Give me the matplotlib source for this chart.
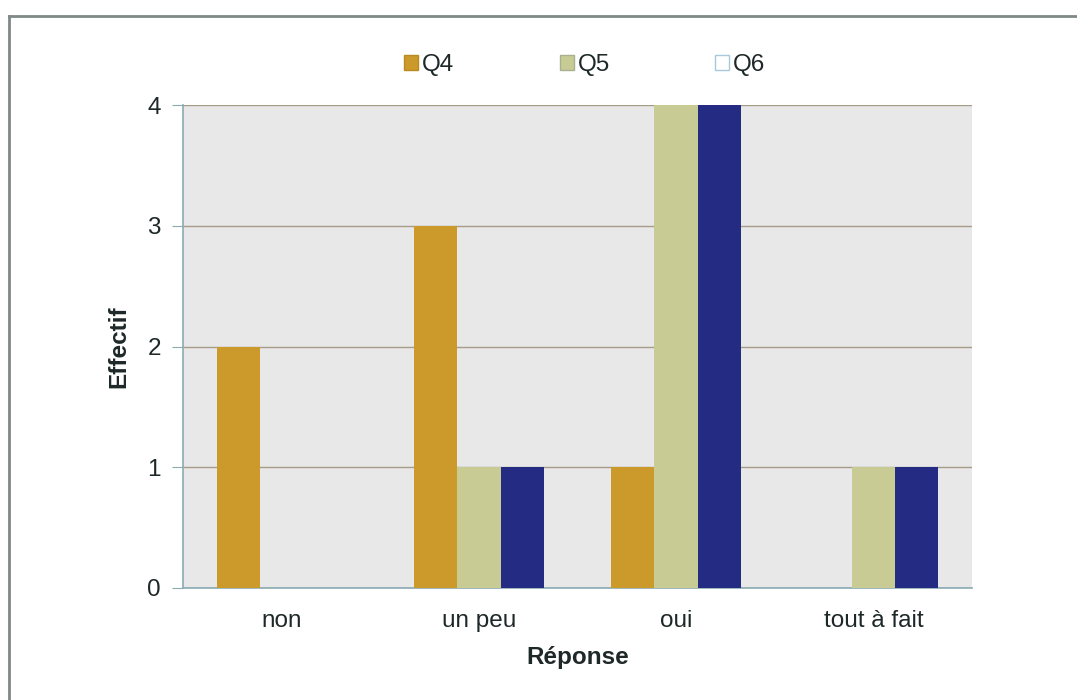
import numpy as np
import matplotlib
matplotlib.use('Agg')
import matplotlib.pyplot as plt
from matplotlib.patches import Patch
from matplotlib.lines import Line2D

plt.rcParams['font.family'] = ['Liberation Sans', 'DejaVu Sans']

# data
categories = ['non', 'un peu', 'oui', 'tout à fait']
series = ['Q4', 'Q5', 'Q6']
q4 = [2, 3, 1, 0]
q5 = [0, 1, 4, 1]
q6 = [0, 1, 4, 1]
values = [q4, q5, q6]
colors = ['#CC9A2A', '#C9CB95', '#232B82']
legend_faces = ['#CC9A2A', '#C9CB95', '#FFFFFF']
legend_edges = ['#B88A20', '#A8B090', '#A8C8DC']

fig = plt.figure(figsize=(10.77, 7), dpi=100)
ax = fig.add_axes([0.170, 0.160, 0.7325, 0.690])

x = np.arange(len(categories))
w = 0.22
for i, (vals, c) in enumerate(zip(values, colors)):
    ax.bar(x + (i - 1) * w, vals, width=w, color=c, zorder=3)

ax.set_xlim(-0.5, len(categories) - 0.5)
ax.set_ylim(0, 4)
ax.set_yticks([0, 1, 2, 3, 4])
ax.set_xticks(x)
ax.set_xticklabels(categories, fontsize=17.5, color='#1E2828')
ax.tick_params(axis='y', labelsize=17.5, labelcolor='#1E2828', length=8, color='#8AAAB4', pad=8)
ax.tick_params(axis='x', length=0, pad=16)
ax.set_facecolor('#E8E8E8')
ax.grid(axis='y', color='#A89C88', linewidth=1, zorder=1)
for s in ['top', 'right']:
    ax.spines[s].set_visible(False)
for s in ['left', 'bottom']:
    ax.spines[s].set_color('#8AAAB4')
    ax.spines[s].set_linewidth(1.2)

ax.set_xlabel('Réponse', fontsize=17.5, fontweight='bold', labelpad=10, color='#1E2828')
ax.set_ylabel('Effectif', fontsize=17.5, fontweight='bold', labelpad=12, color='#1E2828')

handles = [Patch(facecolor=f, edgecolor=e, label=s) for f, e, s in zip(legend_faces, legend_edges, series)]
fig.legend(handles=handles, loc='center', bbox_to_anchor=(0.543, 0.907), ncol=3,
           frameon=False, fontsize=17.5, handlelength=0.56, handleheight=0.56,
           handletextpad=0.16, columnspacing=4.35, labelcolor='#1E2828')

# outer frame of the chart
fig.add_artist(Line2D([0.0084, 1.0], [0.977, 0.977], transform=fig.transFigure, color='#808888', linewidth=2))
fig.add_artist(Line2D([0.0084, 0.0084], [0.0, 0.977], transform=fig.transFigure, color='#808888', linewidth=2))

fig.savefig('out.png', dpi=100)
